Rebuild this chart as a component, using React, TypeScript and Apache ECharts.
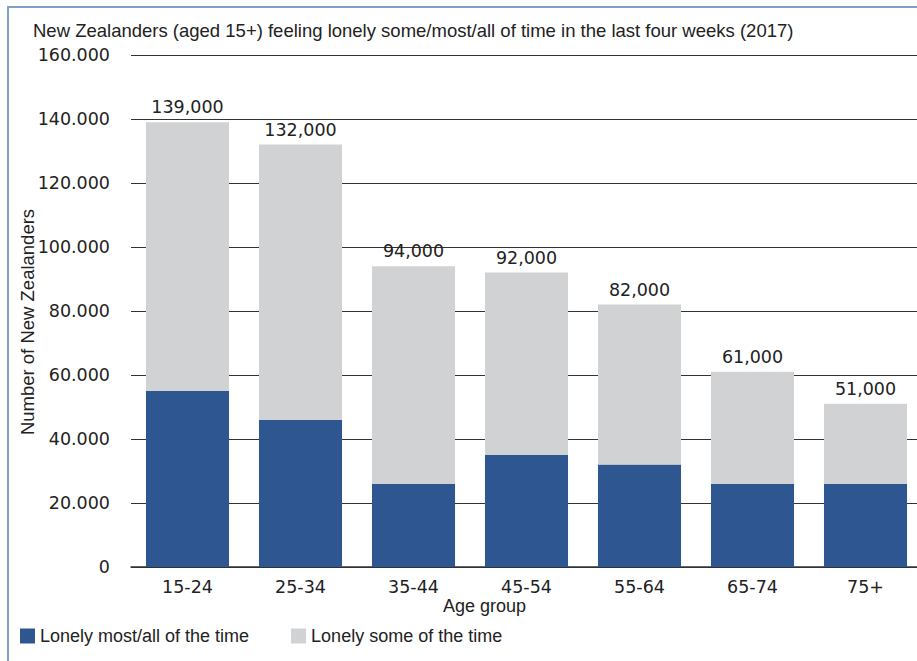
import React, { useEffect, useRef } from "react";
import * as echarts from "echarts";

const categories = ["15-24", "25-34", "35-44", "45-54", "55-64", "65-74", "75+"];
const lonelyMostAll = [55000, 46000, 26000, 35000, 32000, 26000, 26000];
const totals = [139000, 132000, 94000, 92000, 82000, 61000, 51000];
const lonelySome = totals.map((t, i) => t - lonelyMostAll[i]);
const yTicks = [0, 20000, 40000, 60000, 80000, 100000, 120000, 140000, 160000];

const NUM_FONT = "DejaVu Sans";
const TXT_FONT = "'Liberation Sans', Arial, sans-serif";

export default function App() {
  const ref = useRef<HTMLDivElement>(null);
  useEffect(() => {
    document.body.style.margin = "0";
    const chart = echarts.init(ref.current!, null, { renderer: "svg" });
    chart.setOption({
      animation: false,
      backgroundColor: "#ffffff",
      title: {
        text: "New Zealanders (aged 15+) feeling lonely some/most/all of time in the last four weeks (2017)",
        left: 28,
        top: 16,
        textStyle: { fontFamily: TXT_FONT, fontSize: 18.5, fontWeight: "normal", color: "#222" },
      },
      legend: {
        left: 15,
        top: 622,
        itemWidth: 15,
        itemHeight: 15,
        itemGap: 42,
        icon: "rect",
        textStyle: { fontFamily: TXT_FONT, fontSize: 18, color: "#222" },
        data: ["Lonely most/all of the time", "Lonely some of the time"],
      },
      grid: { left: 131, right: 0, top: 55, bottom: 94 },
      xAxis: {
        type: "category",
        data: categories,
        axisLine: { lineStyle: { color: "#333", width: 1.5 } },
        axisTick: { show: false },
        axisLabel: { fontFamily: NUM_FONT, fontSize: 17.5, color: "#222", margin: 11 },
      },
      yAxis: {
        type: "value",
        min: 0,
        max: 160000,
        interval: 20000,
        axisLine: { show: false },
        axisTick: { show: false },
        splitLine: { lineStyle: { color: "#333", width: 1 } },
        axisLabel: {
          fontFamily: NUM_FONT,
          fontSize: 17.5,
          color: "#222",
          margin: 21,
          formatter: (v: number) => (yTicks.includes(v) && v !== 0 ? v / 1000 + ".000" : "0"),
        },
      },
      series: [
        {
          name: "Lonely most/all of the time",
          type: "bar",
          stack: "total",
          barWidth: "73.5%",
          data: lonelyMostAll,
          itemStyle: { color: "#2e5690" },
        },
        {
          name: "Lonely some of the time",
          type: "bar",
          stack: "total",
          data: lonelySome,
          itemStyle: { color: "#d1d2d4" },
          label: {
            show: true,
            position: "top",
            distance: 6,
            fontFamily: NUM_FONT,
            fontSize: 17.5,
            color: "#222",
            formatter: (p: any) => totals[p.dataIndex].toLocaleString("en-US"),
          },
        },
      ],
      graphic: [
        {
          type: "rect",
          shape: { x: 8, y: 7, width: 1200, height: 1000 },
          style: { fill: "none", stroke: "#7f9fc4", lineWidth: 2 },
          silent: true,
        },
        {
          type: "text",
          left: 484 - 41,
          top: 597,
          style: { text: "Age group", font: `18px ${TXT_FONT}`, fill: "#222" },
        },
        {
          type: "text",
          x: 27,
          y: 322,
          rotation: Math.PI / 2,
          style: {
            text: "Number of New Zealanders",
            font: `18.5px ${TXT_FONT}`,
            fill: "#222",
            align: "center",
            verticalAlign: "middle",
          },
        },
      ],
    });
    return () => chart.dispose();
  }, []);
  return (
    <div style={{ width: 917, height: 661, overflow: "hidden" }}>
      <div ref={ref} style={{ width: 922, height: 661 }} />
    </div>
  );
}
